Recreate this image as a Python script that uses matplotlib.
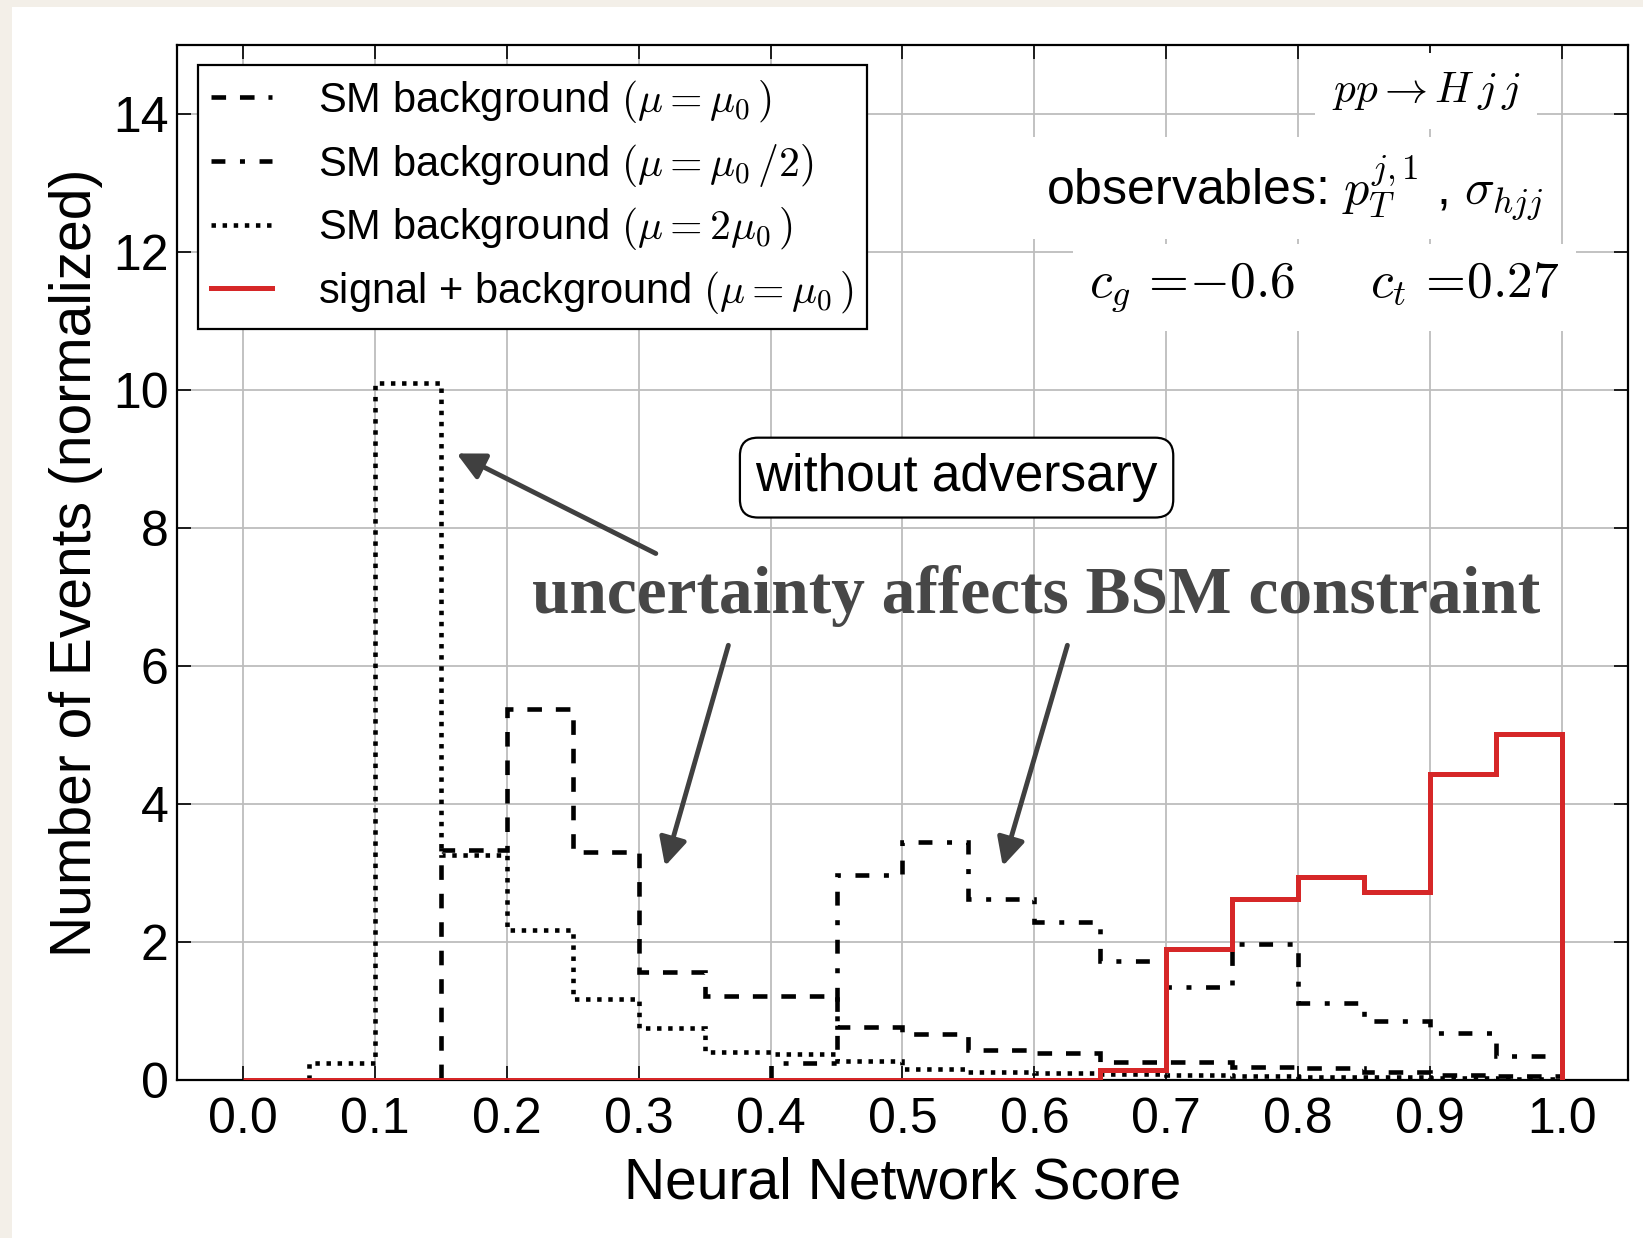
import numpy as np
import matplotlib
matplotlib.use("Agg")
import matplotlib.pyplot as plt
from matplotlib.patches import Rectangle

# bin edges of the network score histogram
edges = np.round(np.arange(0.0, 1.0001, 0.05), 2)

# normalized event counts per bin
bkg_mu0 = [0, 0, 0, 3.34, 5.38, 3.31, 1.57, 1.22, 1.22, 0.77,
           0.66, 0.43, 0.39, 0.26, 0.26, 0.19, 0.18, 0.12, 0.07, 0.06]
bkg_half = [0, 0, 0, 0, 0, 0, 0, 0, 0.25, 2.97,
            3.45, 2.62, 2.29, 1.72, 1.35, 1.97, 1.12, 0.86, 0.68, 0.35]
bkg_double = [0, 0.25, 10.1, 3.26, 2.17, 1.17, 0.76, 0.40, 0.37, 0.28,
              0.16, 0.12, 0.10, 0.09, 0.08, 0.06, 0.04, 0.04, 0.03, 0.02]
sig_bkg = [0, 0, 0, 0, 0, 0, 0, 0, 0, 0,
           0, 0, 0, 0.14, 1.90, 2.63, 2.94, 2.72, 4.44, 5.01]

labels = [r"SM background $(\mu = \mu_0\,)$",
          r"SM background $(\mu = \mu_0\,/2)$",
          r"SM background $(\mu = 2\mu_0\,)$",
          r"signal + background $(\mu = \mu_0\,)$"]

xticks = [0.0, 0.1, 0.2, 0.3, 0.4, 0.5, 0.6, 0.7, 0.8, 0.9, 1.0]
yticks = [0, 2, 4, 6, 8, 10, 12, 14]

plt.rcParams["font.family"] = ["Liberation Sans", "DejaVu Sans"]
plt.rcParams["mathtext.fontset"] = "cm"
plt.rcParams["lines.scale_dashes"] = False

fig = plt.figure(figsize=(16.43, 12.38), dpi=100, facecolor="#f3efe8")
fig.patches.append(Rectangle((12 / 1643, 0), 1, 1 - 7 / 1238, transform=fig.transFigure,
                             facecolor="white", edgecolor="none", zorder=-10))
ax = fig.add_axes([0.1077, 0.1276, 0.8832, 0.8361])

red = "#d62728"
ax.stairs(bkg_mu0, edges, baseline=0, color="black", lw=3.3,
          linestyle=(0, (10.5, 10)), label=labels[0], zorder=3)
ax.stairs(bkg_half, edges, baseline=0, color="black", lw=3.3,
          linestyle=(0, (10, 10.5, 3.6, 10.5)), label=labels[1], zorder=3)
ax.stairs(bkg_double, edges, baseline=0, color="black", lw=3.3,
          linestyle=(0, (3.2, 4.8)), label=labels[2], zorder=3)
ax.stairs(sig_bkg, edges, baseline=0, color=red, lw=3.6, label=labels[3], zorder=4)

ax.set_xlim(-0.05, 1.05)
ax.set_ylim(0, 15)
ax.set_xticks(xticks)
ax.set_xticklabels([f"{t:.1f}" for t in xticks])
ax.set_yticks(yticks)
ax.tick_params(direction="in", top=True, right=True, length=10, width=1.2,
               labelsize=36)
ax.tick_params(axis="x", pad=12)
ax.tick_params(axis="y", pad=6)
ax.grid(True, color="#bdbdbd", lw=1.3)
ax.set_axisbelow(True)
for s in ax.spines.values():
    s.set_linewidth(1.6)

ax.set_xlabel("Neural Network Score", fontsize=41, labelpad=10)
ax.set_ylabel("Number of Events (normalized)", fontsize=41, labelpad=7)

leg = ax.legend(loc="upper left", bbox_to_anchor=(0.0145, 0.981), borderaxespad=0,
                fontsize=30, handlelength=1.45, handletextpad=1.1, borderpad=0.32,
                labelspacing=0.4, fancybox=False, framealpha=1)
leg.get_frame().set_edgecolor("black")
leg.get_frame().set_linewidth(1.6)

# annotations in the top right corner
box = dict(facecolor="white", edgecolor="none", pad=12)
ax.text(0.897, 14.33, r"$pp \rightarrow H\,j\,j$", fontsize=31, ha="center", va="center",
        bbox=box, zorder=5)
ax.text(0.797, 12.93, r"observables: $p_T^{j,1}$ , $\sigma_{hjj}$", fontsize=36,
        ha="center", va="center", bbox=box, zorder=5)
ax.text(0.82, 11.48, r"$c_g\,=\!{-}0.6\quad\ \ c_t\,=\!0.27$", fontsize=37,
        ha="center", va="center", bbox=box, zorder=5)

ax.text(0.541, 8.73, "without adversary", fontsize=37, ha="center", va="center",
        bbox=dict(boxstyle="round,pad=0.3,rounding_size=0.35", facecolor="white",
                  edgecolor="black", lw=1.6), zorder=6)
ax.text(0.601, 7.02, "uncertainty affects BSM constraint", fontsize=48.5,
        family="Liberation Serif", weight="bold", color="#474747",
        ha="center", va="center", zorder=6)

arrow = dict(arrowstyle="-|>", color="#404040", lw=3.5, mutation_scale=42,
             shrinkA=0, shrinkB=0)
for tail, head in [((0.313, 7.63), (0.162, 9.08)),
                   ((0.368, 6.30), (0.320, 3.10)),
                   ((0.625, 6.30), (0.576, 3.10))]:
    ax.annotate("", xy=head, xytext=tail, arrowprops=arrow, zorder=6)

fig.savefig("out.png", dpi=100, facecolor=fig.get_facecolor())
